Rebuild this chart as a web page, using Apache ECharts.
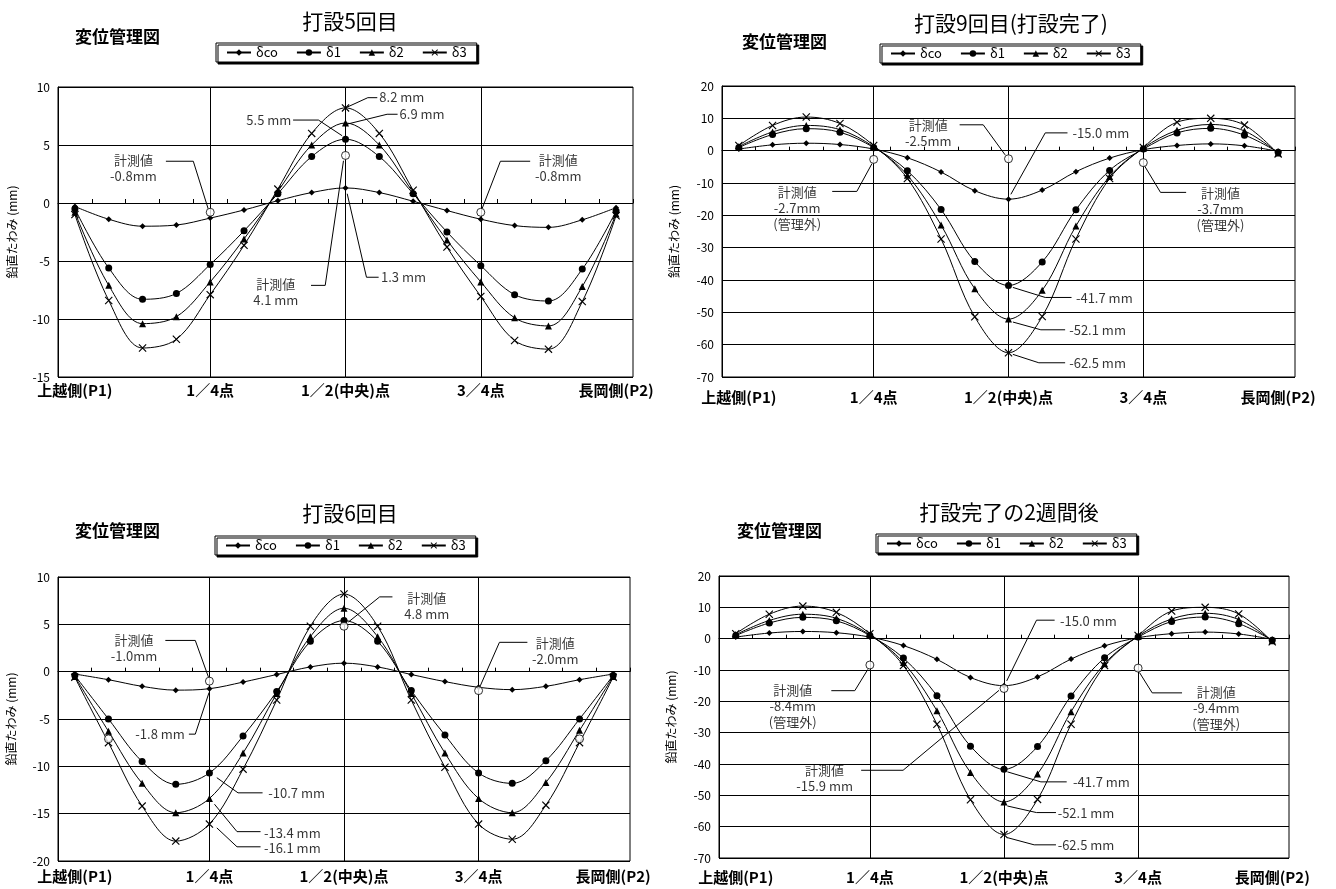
<!DOCTYPE html>
<html>
<head>
<meta charset="utf-8">
<script src="https://cdn.jsdelivr.net/npm/echarts@6/dist/echarts.min.js"></script>
<style>
html, body { margin: 0; background: #fff; }
#main { width: 1336px; height: 889px; }
</style>
</head>
<body>
<div id="main"></div>
<script>
var FONT = '"Noto Sans CJK JP", "Noto Sans", sans-serif';

// x positions 0..16 : P1 .. P2
var xLabels = ['上越側(P1)', '', '', '', '1／4点', '', '', '', '1／2(中央)点', '', '', '', '3／4点', '', '', '', '長岡側(P2)'];
var seriesNames = ['δco', 'δ1', 'δ2', 'δ3'];
var quarterPos = [4, 8, 12];

// 打設5回目
var dco5 = [-0.3, -1.4, -2.0, -1.9, -1.3, -0.6, 0.2, 0.9, 1.3, 0.9, 0.15, -0.65, -1.4, -1.95, -2.1, -1.45, -0.4];
var d1_5 = [-0.5, -5.6, -8.3, -7.8, -5.3, -2.4, 0.8, 4.0, 5.5, 4.0, 0.8, -2.5, -5.4, -7.9, -8.45, -5.7, -0.7];
var d2_5 = [-0.8, -7.1, -10.4, -9.8, -6.8, -3.1, 1.0, 5.0, 6.9, 5.0, 0.9, -3.2, -6.8, -9.9, -10.6, -7.2, -0.95];
var d3_5 = [-1.0, -8.4, -12.5, -11.75, -7.9, -3.65, 1.2, 6.0, 8.2, 6.0, 1.1, -3.8, -8.05, -11.85, -12.6, -8.5, -1.1];
var measPos5 = [4, 8, 12];
var meas5 = [-0.8, 4.1, -0.8];

// 打設6回目
var dco6 = [-0.25, -0.85, -1.55, -1.95, -1.8, -1.1, -0.3, 0.5, 0.9, 0.5, -0.3, -1.05, -1.65, -1.9, -1.55, -0.85, -0.25];
var d1_6 = [-0.4, -5.0, -9.5, -11.9, -10.7, -6.8, -2.1, 3.2, 5.4, 3.2, -2.0, -6.7, -10.7, -11.8, -9.4, -5.0, -0.4];
var d2_6 = [-0.5, -6.3, -11.8, -14.9, -13.4, -8.6, -2.3, 3.7, 6.7, 3.7, -2.3, -8.6, -13.4, -14.9, -11.7, -6.2, -0.5];
var d3_6 = [-0.6, -7.5, -14.2, -17.9, -16.1, -10.3, -3.0, 4.8, 8.2, 4.8, -3.0, -10.1, -16.1, -17.7, -14.1, -7.5, -0.6];
var measPos6 = [1, 4, 8, 12, 15];
var meas6 = [-7.1, -1.0, 4.8, -2.0, -7.1];

// 打設9回目(打設完了) / 打設完了の2週間後 (same design curves)
var dco9 = [0.5, 1.8, 2.3, 1.9, 0.5, -2.2, -6.6, -12.4, -15.0, -12.2, -6.5, -2.3, 0.3, 1.6, 2.1, 1.5, -0.2];
var d1_9 = [1.0, 5.0, 6.8, 5.7, 1.0, -6.2, -18.2, -34.3, -41.7, -34.4, -18.3, -6.1, 0.5, 5.5, 6.9, 4.8, -0.5];
var d2_9 = [1.3, 5.8, 7.8, 6.5, 1.2, -7.6, -23.0, -42.7, -52.1, -43.2, -23.3, -8.0, 0.8, 6.3, 8.1, 6.1, -0.7];
var d3_9 = [1.6, 7.8, 10.4, 8.4, 1.6, -8.6, -27.3, -51.4, -62.5, -51.3, -27.3, -8.6, 1.0, 8.8, 10.0, 7.9, -1.0];
var measPos9 = [4, 8, 12];
var meas9 = [-2.7, -2.5, -3.7];
var measA = [-8.4, -15.9, -9.4];

// annotations (text, anchor in data units, leader polylines)
var notes5 = ['8.2 mm', '6.9 mm', '5.5 mm', '計測値\n-0.8mm', '計測値\n-0.8mm', '計測値\n4.1 mm', '1.3 mm'];
var noteAt5 = [[9.0, 9.1], [9.6, 7.65], [6.4, 7.15], [1.73, 2.97], [14.29, 2.97], [5.94, -7.72], [9.05, -6.4]];
var noteAlign5 = ['left', 'left', 'right', 'center', 'center', 'center', 'left'];
var leaders5 = [
    [[8, 8.2], [8.66, 9.08], [8.94, 9.08]],
    [[8.05, 6.8], [9.23, 7.65], [9.54, 7.65]],
    [[6.45, 7.15], [7.2, 7.15], [7.9, 5.8]],
    [[2.69, 3.6], [3.5, 3.6], [3.94, -0.5]],
    [[13.46, 3.6], [12.58, 3.6], [12.03, -0.55]],
    [[6.98, -7.1], [7.4, -7.1], [7.94, 3.64]],
    [[8.05, 0.8], [8.62, -6.4], [8.98, -6.4]]
];

var notes9 = ['計測値\n-2.5mm', '-15.0 mm', '計測値\n-2.7mm\n(管理外)', '計測値\n-3.7mm\n(管理外)', '-41.7 mm', '-52.1 mm', '-62.5 mm'];
var noteAt9 = [[5.62, 5.5], [9.9, 5.4], [1.73, -17.6], [14.29, -18.1], [10.0, -45.6], [9.8, -55.4], [9.8, -65.6]];
var noteAlign9 = ['center', 'left', 'center', 'center', 'left', 'left', 'left'];
var leaders9 = [
    [[6.55, 8.0], [7.25, 8.0], [7.9, -1.3]],
    [[9.75, 5.5], [9.09, 5.5], [8.07, -13.5]],
    [[2.77, -12.6], [3.5, -12.6], [3.95, -4.0]],
    [[13.27, -12.9], [12.51, -12.9], [12.03, -4.6]],
    [[8.13, -42.3], [9.09, -45.4], [9.87, -45.4]],
    [[8.13, -53.0], [8.96, -55.4], [9.68, -55.4]],
    [[8.13, -63.0], [8.9, -65.6], [9.68, -65.6]]
];

var notes6 = ['計測値\n4.8 mm', '計測値\n-1.0mm', '計測値\n-2.0mm', '-1.8 mm', '-10.7 mm', '-13.4 mm', '-16.1 mm'];
var noteAt6 = [[10.46, 6.98], [1.76, 2.48], [14.28, 2.2], [3.27, -6.6], [5.75, -12.84], [5.62, -17.0], [5.62, -18.6]];
var noteAlign6 = ['center', 'center', 'center', 'right', 'left', 'left', 'left'];
var leaders6 = [
    [[9.44, 7.9], [9.06, 7.9], [8.13, 5.24]],
    [[2.69, 3.3], [3.58, 3.3], [3.97, -0.56]],
    [[13.45, 3.1], [12.62, 3.1], [12.05, -1.5]],
    [[3.39, -6.6], [3.58, -6.6], [3.99, -2.2]],
    [[4.22, -11.2], [4.85, -12.8], [5.58, -12.8]],
    [[4.15, -14.0], [4.82, -16.9], [5.52, -16.9]],
    [[4.22, -16.5], [4.82, -18.5], [5.52, -18.5]]
];

var notesA = ['-15.0 mm', '計測値\n-15.9 mm', '計測値\n-8.4mm\n(管理外)', '計測値\n-9.4mm\n(管理外)', '-41.7 mm', '-52.1 mm', '-62.5 mm'];
var noteAtA = [[9.67, 5.6], [2.65, -44.5], [1.7, -21.6], [14.33, -22.1], [10.06, -45.9], [9.6, -55.5], [9.6, -65.8]];
var noteAlignA = ['left', 'center', 'center', 'center', 'left', 'left', 'left'];
var leadersA = [
    [[9.51, 5.9], [8.97, 5.9], [8.08, -13.5]],
    [[3.74, -42.0], [4.99, -42.0], [7.85, -16.5]],
    [[2.85, -16.6], [3.55, -16.6], [3.94, -9.8]],
    [[13.31, -17.3], [12.42, -17.3], [12.04, -10.8]],
    [[8.1, -42.5], [9.1, -45.7], [9.87, -45.7]],
    [[8.1, -53.4], [8.97, -55.5], [9.55, -55.5]],
    [[8.1, -63.5], [8.9, -65.8], [9.55, -65.8]]
];

var symbols = ['diamond', 'circle', 'triangle', 'path://M0,1L1,0L10,9L9,10ZM9,0L10,1L1,10L0,9Z'];
var symbolSizes = [6, 7, 7, 8];

var panels = [
    { title: '打設5回目', curves: [dco5, d1_5, d2_5, d3_5], measPos: measPos5, meas: meas5,
      notes: notes5, noteAt: noteAt5, noteAlign: noteAlign5, leaders: leaders5, yMin: -15, yMax: 10, yStep: 5,
      box: { left: 58, top: 87, width: 575, height: 290, titleX: 345, titleY: 6, subX: 70, subY: 23, legX: 216, legY: 43, labelMargin: 6, nameGap: 40 } },
    { title: '打設9回目(打設完了)', curves: [dco9, d1_9, d2_9, d3_9], measPos: measPos9, meas: meas9,
      notes: notes9, noteAt: noteAt9, noteAlign: noteAlign9, leaders: leaders9, yMin: -70, yMax: 20, yStep: 10,
      box: { left: 722, top: 86, width: 573, height: 291, titleX: 1006, titleY: 8, subX: 737, subY: 28, legX: 880, legY: 44, labelMargin: 13, nameGap: 42 } },
    { title: '打設6回目', curves: [dco6, d1_6, d2_6, d3_6], measPos: measPos6, meas: meas6,
      notes: notes6, noteAt: noteAt6, noteAlign: noteAlign6, leaders: leaders6, yMin: -20, yMax: 10, yStep: 5,
      box: { left: 58, top: 577, width: 572, height: 284, titleX: 345, titleY: 498, subX: 70, subY: 517, legX: 215, legY: 536, labelMargin: 8, nameGap: 41 } },
    { title: '打設完了の2週間後', curves: [dco9, d1_9, d2_9, d3_9], measPos: measPos9, meas: measA,
      notes: notesA, noteAt: noteAtA, noteAlign: noteAlignA, leaders: leadersA, yMin: -70, yMax: 20, yStep: 10,
      box: { left: 719, top: 576, width: 570, height: 282, titleX: 1004, titleY: 497, subX: 732, subY: 517, legX: 876, legY: 534, labelMargin: 12, nameGap: 42 } }
];

var myChart = echarts.init(document.getElementById('main'));

var option = {
    backgroundColor: '#fff',
    animation: false,
    title: [],
    legend: [],
    grid: [],
    xAxis: [],
    yAxis: [],
    series: []
};

panels.forEach(function (p, g) {
    var b = p.box;
    option.title.push({
        text: p.title, left: b.titleX, top: b.titleY, textAlign: 'center',
        textStyle: { fontFamily: FONT, fontSize: 21, fontWeight: 'normal', color: '#000' }
    });
    option.title.push({
        text: '変位管理図', left: b.subX, top: b.subY,
        textStyle: { fontFamily: FONT, fontSize: 17, fontWeight: 'bold', color: '#000' }
    });
    option.legend.push({
        left: b.legX, top: b.legY, data: seriesNames, selectedMode: false,
        itemWidth: 24, itemHeight: 8, itemGap: 18, padding: [3, 10],
        borderColor: '#000', borderWidth: 1, backgroundColor: '#fff',
        shadowColor: '#000', shadowOffsetX: 2, shadowOffsetY: 2, shadowBlur: 0,
        textStyle: { fontFamily: FONT, fontSize: 13, color: '#000' }
    });
    option.grid.push({
        left: b.left, top: b.top, width: b.width, height: b.height,
        show: true, borderColor: '#000', borderWidth: 1, backgroundColor: '#fff'
    });
    // hidden value axis used by all marks
    option.xAxis.push({
        type: 'value', gridIndex: g, min: -0.5, max: 16.5, show: false,
        axisLine: { onZero: false }
    });
    // category labels at the bottom
    option.xAxis.push({
        type: 'category', gridIndex: g, data: xLabels, position: 'bottom', boundaryGap: true,
        axisLine: { show: false, onZero: false }, axisTick: { show: false }, splitLine: { show: false },
        axisLabel: { interval: 0, margin: b.labelMargin, fontFamily: FONT, fontSize: 15, fontWeight: 'bold', color: '#000' }
    });
    // zero line with ticks
    option.xAxis.push({
        type: 'category', gridIndex: g, data: xLabels, position: 'bottom', boundaryGap: true,
        axisLine: { show: true, onZero: true, lineStyle: { color: '#000', width: 1 } },
        axisTick: { show: true, inside: true, length: 4, interval: 0, lineStyle: { color: '#000' } },
        axisLabel: { show: false }, splitLine: { show: false }
    });
    option.yAxis.push({
        type: 'value', gridIndex: g, min: p.yMin, max: p.yMax, interval: p.yStep,
        name: '鉛直たわみ (mm)', nameLocation: 'middle', nameGap: b.nameGap,
        nameTextStyle: { fontFamily: FONT, fontSize: 12, color: '#000' },
        axisLine: { show: true, onZero: false, lineStyle: { color: '#000' } },
        axisTick: { show: false },
        axisLabel: { fontFamily: FONT, fontSize: 12, color: '#000', margin: 8 },
        splitLine: { show: true, lineStyle: { color: '#000', width: 1 } }
    });

    p.curves.forEach(function (vals, k) {
        var s = {
            name: seriesNames[k], type: 'line', xAxisIndex: 3 * g, yAxisIndex: g,
            data: vals.map(function (v, i) { return [i, v]; }),
            smooth: 0.35, symbol: symbols[k], symbolSize: symbolSizes[k], showAllSymbol: true,
            lineStyle: { color: '#000', width: 1 }, itemStyle: { color: '#000' }, z: 3
        };
        if (k === 0) {
            s.markLine = {
                silent: true, symbol: ['none', 'none'], label: { show: false },
                lineStyle: { color: '#000', type: 'solid', width: 1 },
                data: quarterPos.map(function (q) { return { xAxis: q }; })
            };
        }
        option.series.push(s);
    });

    option.series.push({
        name: '計測値', type: 'scatter', xAxisIndex: 3 * g, yAxisIndex: g,
        data: p.measPos.map(function (x, j) { return [x, p.meas[j]]; }),
        symbol: 'circle', symbolSize: 8,
        itemStyle: { color: '#fff', borderColor: '#000', borderWidth: 1 }, z: 6
    });

    option.series.push({
        type: 'lines', coordinateSystem: 'cartesian2d', xAxisIndex: 3 * g, yAxisIndex: g,
        polyline: true, silent: true, z: 4,
        lineStyle: { color: '#000', width: 1, opacity: 1 },
        data: p.leaders.map(function (c) { return { coords: c }; })
    });

    option.series.push({
        type: 'scatter', xAxisIndex: 3 * g, yAxisIndex: g, silent: true, z: 7,
        symbolSize: 0.1, itemStyle: { color: 'rgba(0,0,0,0)' },
        label: {
            show: true, position: 'inside', formatter: '{b}',
            fontFamily: FONT, fontSize: 13, lineHeight: 16, color: '#000'
        },
        data: p.notes.map(function (t, j) {
            return { name: t, value: p.noteAt[j], label: { align: p.noteAlign[j] } };
        })
    });
});

myChart.setOption(option);
</script>
</body>
</html>
